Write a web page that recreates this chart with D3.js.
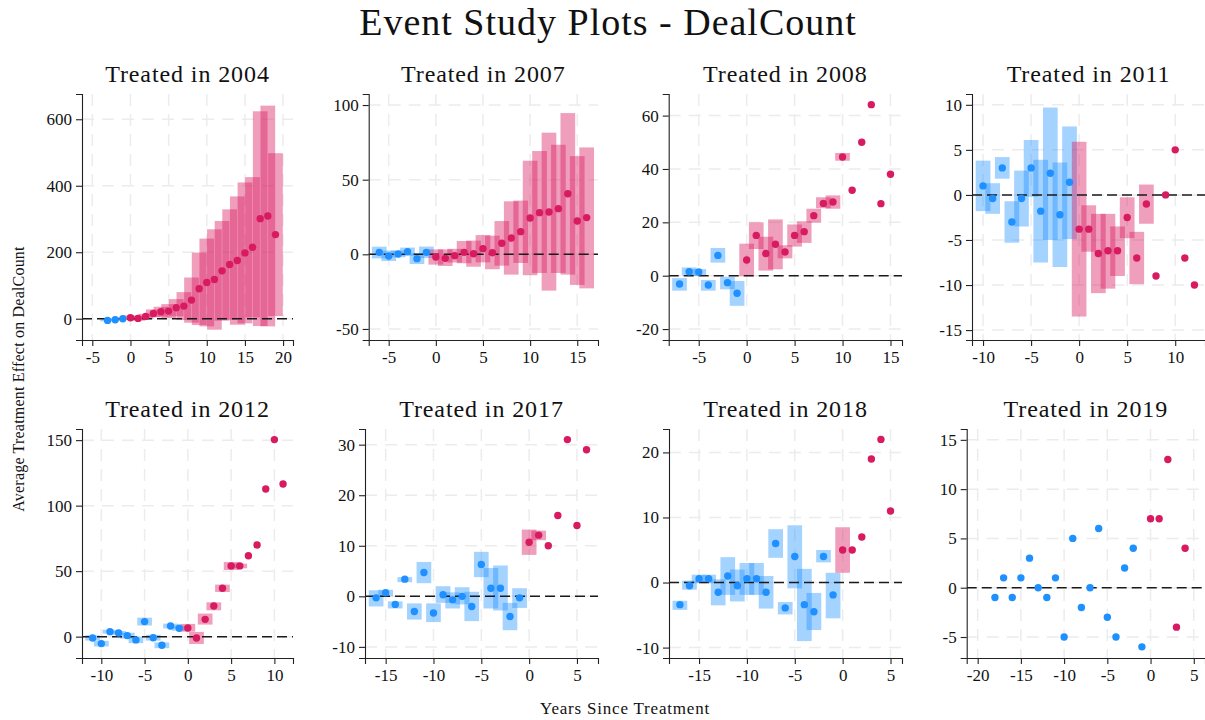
<!DOCTYPE html>
<html>
<head>
<meta charset="utf-8">
<script src="https://cdn.jsdelivr.net/npm/d3@7"></script>
<style>
  body { margin: 0; background: #fff; }
  text { font-family: "Liberation Serif", "DejaVu Serif", serif; fill: #111; }
</style>
</head>
<body>
<script>
// cohorts and their first event time (years since treatment)
var cohorts = [2004, 2007, 2008, 2011, 2012, 2017, 2018, 2019];
var firstYear = [-3, -6, -7, -10, -11, -16, -17, -18];

// point estimates
var est2004 = [-5, -3, 0, 3, 1, 7, 16, 21, 23, 33, 38, 56, 90, 109, 118, 144, 163, 175, 198, 215, 301, 309, 253];
var lo2004  = [-8, -6, -3, -4, -6, -1, 4, 6, 2, 7, -4, -12, -19, -23, -33, -6, -3, -18, -14, 4, -22, -23, 8];
var hi2004  = [-1, 0, 3, 10, 8, 15, 28, 36, 44, 59, 80, 124, 199, 241, 269, 294, 329, 368, 410, 426, 624, 641, 498];

var est2007 = [1.3, -1.1, 0.2, 1.8, -2.9, 1.3, -1.8, -2.7, -0.9, 1.3, 0.4, 3.8, 1.1, 7.4, 10.9, 15.2, 24.3, 27.9, 28.3, 30.6, 40.6, 22.3, 24.6];
var lo2007  = [-2.7, -4.5, -2, -1, -6.5, -2.5, -6.9, -7.8, -5.5, -6, -8.3, -5.4, -10, -7.6, -13.6, -5.8, -14, -12.5, -24.3, -12.5, -13.6, -20.5, -22.8];
var hi2007  = [5.1, 2.5, 2.5, 4.5, 0.7, 5.2, 3.3, 3.3, 3.7, 8.9, 9.2, 12.9, 12.5, 22.3, 35.5, 36, 62.7, 69.2, 81.5, 73.4, 94.6, 65.8, 71.6];

var est2008 = [-3.1, 1.5, 1.4, -3.5, 7.6, -2.6, -6.6, 5.9, 15.1, 8.3, 11.8, 8.9, 15.1, 16.5, 22.5, 27.1, 27.6, 44.5, 32, 50, 64.1, 27, 38];
var lo2008  = [-5.6, 0, -0.1, -5.6, 4.9, -5.1, -11.3, -0.2, 10, 1.9, 2.4, 6.5, 10.9, 12.3, 19.9, 25.3, 25.1, 43.1, null, null, null, null, null];
var hi2008  = [-0.9, 3.1, 2.5, -1.6, 10.4, -0.4, -2, 12, 20, 14.6, 21.1, 11.4, 19.2, 20.4, 25.1, 29.4, 30.1, 46, null, null, null, null, null];

var est2011 = [1.0, -0.4, 3.0, -3.0, -0.4, 3.0, -1.8, 2.4, -2.2, 1.4, -3.8, -3.8, -6.5, -6.2, -6.2, -2.5, -7.0, -1.0, -9.0, 0, 5, -7, -10];
var lo2011  = [-1.8, -2.1, 1.8, -5.3, -3.5, -0.2, -7.5, -5.0, -8.0, -4.9, -13.5, -6.3, -10.9, -10.4, -9.0, -4.8, -9.9, -3.2, null, null, null, null, null];
var hi2011  = [3.8, 1.3, 4.2, -0.7, 2.7, 6.1, 3.9, 9.7, 3.6, 7.6, 5.9, -1.15, -2.1, -2.1, -3.5, -0.26, -4.1, 1.15, null, null, null, null, null];

var est2012 = [-1, -5.3, 3.8, 2.8, 0.8, -2.5, 11.5, -0.8, -6.6, 8.1, 6.4, 6.6, -1, 13.2, 23.4, 36.9, 54, 54, 61.8, 70, 112.7, 150.4, 116.5];
var lo2012  = [-3, -7.5, 2.3, 1.3, -1.5, -5, 8.5, -3, -8.8, 6.3, 4.5, 3.8, -5.6, 9.2, 20.1, 34.1, 50.9, 52.2, null, null, null, null, null];
var hi2012  = [1, -3.2, 5.3, 4.3, 3, 0, 14.5, 1.4, -4.4, 9.9, 8.3, 9.7, 3.6, 17.6, 26.2, 39.7, 57, 55.7, null, null, null, null, null];

var est2017 = [-0.3, 0.7, -1.6, 3.4, -3.0, 4.7, -3.3, 0.3, -0.7, 0, -2.0, 6.3, 1.6, 1.6, -4.0, -0.3, 10.7, 12.1, 10, 16, 31, 14, 29];
var lo2017  = [-2.0, 0, -2.4, 2.8, -4.6, 2.6, -5.1, -1.3, -2.4, -1.6, -4.9, 3.8, -2.4, -2.8, -6.7, -2.3, 8.2, 11.1, null, null, null, null, null];
var hi2017  = [1.2, 1.3, -1, 3.8, -1.4, 6.8, -1.4, 2, 0.8, 1.8, 0.9, 8.8, 5.6, 6.1, -1.3, 1.6, 13.2, 13, null, null, null, null, null];

var est2018 = [-3.4, -0.5, 0.6, 0.6, -1.5, 1.0, -0.5, 0.6, 0.6, -1.5, 6.0, -3.9, 4.0, -3.4, -4.5, 4.0, -1.9, 5, 5, 7, 19, 22, 11];
var lo2018  = [-4.2, -1.1, -0.1, -0.1, -3.5, -1.9, -2.9, -1.9, -1.9, -4, 3.8, -4.9, -0.9, -9, -7.3, 3.1, -5.5, 1.5, null, null, null, null, null];
var hi2018  = [-2.8, 0.3, 1.2, 1.2, 0.5, 3.9, 2, 3, 3, 1, 8.2, -3, 8.8, 2.1, -1.6, 5.0, 1.5, 8.5, null, null, null, null, null];

var est2019 = [-1, 1, -1, 1, 3, 0, -1, 1, -5, 5, -2, 0, 6, -3, -5, 2, 4, -6, 7, 7, 13, -4, 4];
var lo2019  = [];
var hi2019  = [];

// axis ranges and ticks
var xDomains = [[-6.35, 21.3], [-7.12, 17.2], [-8.13, 16.2], [-11.15, 13.1], [-12.23, 12.15], [-17.16, 7.2], [-18.14, 6.2], [-21.27, 6.3]];
var yDomains = [[-64, 676], [-57.4, 107.4], [-24.1, 68.1], [-16.1, 11.2], [-16.3, 158.5], [-12.2, 33.1], [-11.6, 23.6], [-7.13, 16.1]];
var xTicks = [[-5, 0, 5, 10, 15, 20], [-5, 0, 5, 10, 15], [-5, 0, 5, 10, 15], [-10, -5, 0, 5, 10], [-10, -5, 0, 5, 10], [-15, -10, -5, 0, 5], [-15, -10, -5, 0, 5], [-20, -15, -10, -5, 0, 5]];
var yTicks = [[0, 200, 400, 600], [-50, 0, 50, 100], [-20, 0, 20, 40, 60], [-15, -10, -5, 0, 5, 10], [0, 50, 100, 150], [-10, 0, 10, 20, 30], [-10, 0, 10, 20], [-5, 0, 5, 10, 15]];

var estAll = [est2004, est2007, est2008, est2011, est2012, est2017, est2018, est2019];
var loAll = [lo2004, lo2007, lo2008, lo2011, lo2012, lo2017, lo2018, lo2019];
var hiAll = [hi2004, hi2007, hi2008, hi2011, hi2012, hi2017, hi2018, hi2019];

var W = 1205, H = 720;
var blue = "#1E90FF", pink = "#D81B60";
var barW = 14.7;

// plot area of each panel: left, right, top, bottom
var boxes = [
  [82, 293, 94, 340], [368.7, 598, 94, 340], [668.7, 902, 94, 340], [972, 1205, 94, 340],
  [82, 293, 429, 658], [365, 598, 429, 658], [669, 902, 429, 658], [966.7, 1205, 429, 658]
];

var svg = d3.select("body").append("svg")
  .attr("width", W)
  .attr("height", H);

svg.append("text")
  .attr("x", 608)
  .attr("y", 35)
  .attr("text-anchor", "middle")
  .style("font-size", "38px")
  .style("letter-spacing", "1px")
  .text("Event Study Plots - DealCount");

svg.append("text")
  .attr("transform", "translate(24,379) rotate(-90)")
  .attr("text-anchor", "middle")
  .style("font-size", "16px")
  .style("letter-spacing", "0.2px")
  .text("Average Treatment Effect on DealCount");

svg.append("text")
  .attr("x", 625)
  .attr("y", 714)
  .attr("text-anchor", "middle")
  .style("font-size", "17px")
  .style("letter-spacing", "0.8px")
  .text("Years Since Treatment");

cohorts.forEach(function(c, i) {
  var b = boxes[i];
  var x = d3.scaleLinear().domain(xDomains[i]).range([b[0], b[1]]);
  var y = d3.scaleLinear().domain(yDomains[i]).range([b[3], b[2]]);

  var rows = estAll[i].map(function(v, k) {
    return {
      t: firstYear[i] + k,
      est: v,
      lo: loAll[i][k] == null ? null : loAll[i][k],
      hi: hiAll[i][k] == null ? null : hiAll[i][k]
    };
  });

  var g = svg.append("g").attr("class", "panel");

  // grid
  g.append("g").selectAll("line")
    .data(xTicks[i])
    .enter().append("line")
      .attr("x1", function(d) { return x(d); })
      .attr("x2", function(d) { return x(d); })
      .attr("y1", b[2])
      .attr("y2", b[3])
      .style("stroke", "#ececec")
      .style("stroke-width", 1.5)
      .style("stroke-dasharray", "12,8");

  g.append("g").selectAll("line")
    .data(yTicks[i])
    .enter().append("line")
      .attr("x1", b[0])
      .attr("x2", b[1])
      .attr("y1", function(d) { return y(d); })
      .attr("y2", function(d) { return y(d); })
      .style("stroke", "#ececec")
      .style("stroke-width", 1.5)
      .style("stroke-dasharray", "12,8");

  // confidence bars
  g.append("g").selectAll("rect")
    .data(rows.filter(function(d) { return d.lo != null && d.hi != null; }))
    .enter().append("rect")
      .attr("x", function(d) { return x(d.t) - barW / 2; })
      .attr("width", barW)
      .attr("y", function(d) { return y(d.hi); })
      .attr("height", function(d) { return y(d.lo) - y(d.hi); })
      .style("fill", function(d) { return d.t < 0 ? blue : pink; })
      .style("fill-opacity", function(d) { return d.t < 0 ? 0.4 : 0.42; });

  // zero line
  g.append("line")
    .attr("x1", b[0])
    .attr("x2", b[1])
    .attr("y1", y(0))
    .attr("y2", y(0))
    .style("stroke", "#1a1a1a")
    .style("stroke-width", 1.5)
    .style("stroke-dasharray", "10,5");

  // estimates
  g.append("g").selectAll("circle")
    .data(rows)
    .enter().append("circle")
      .attr("cx", function(d) { return x(d.t); })
      .attr("cy", function(d) { return y(d.est); })
      .attr("r", 3.7)
      .style("fill", function(d) { return d.t < 0 ? blue : pink; });

  // axes
  var xAxis = g.append("g")
    .attr("transform", "translate(0," + b[3] + ")")
    .call(d3.axisBottom(x).tickValues(xTicks[i]).tickSize(6).tickPadding(5)
      .tickFormat(function(d) { return String(d); }));
  var yAxis = g.append("g")
    .attr("transform", "translate(" + b[0] + ",0)")
    .call(d3.axisLeft(y).tickValues(yTicks[i]).tickSize(6).tickPadding(4)
      .tickFormat(function(d) { return String(d); }));

  [xAxis, yAxis].forEach(function(a) {
    a.select(".domain").style("stroke", "#222").style("stroke-width", 1.1);
    a.selectAll(".tick line").style("stroke", "#222").style("stroke-width", 1.1);
    a.selectAll(".tick text")
      .style("font-family", "'Liberation Serif', serif")
      .style("font-size", "17px")
      .style("fill", "#111");
  });

  // subplot title
  g.append("text")
    .attr("x", (b[0] + b[1]) / 2)
    .attr("y", b[2] - 12)
    .attr("text-anchor", "middle")
    .style("font-size", "24px")
    .style("letter-spacing", "0.9px")
    .text("Treated in " + c);
});
</script>
</body>
</html>
